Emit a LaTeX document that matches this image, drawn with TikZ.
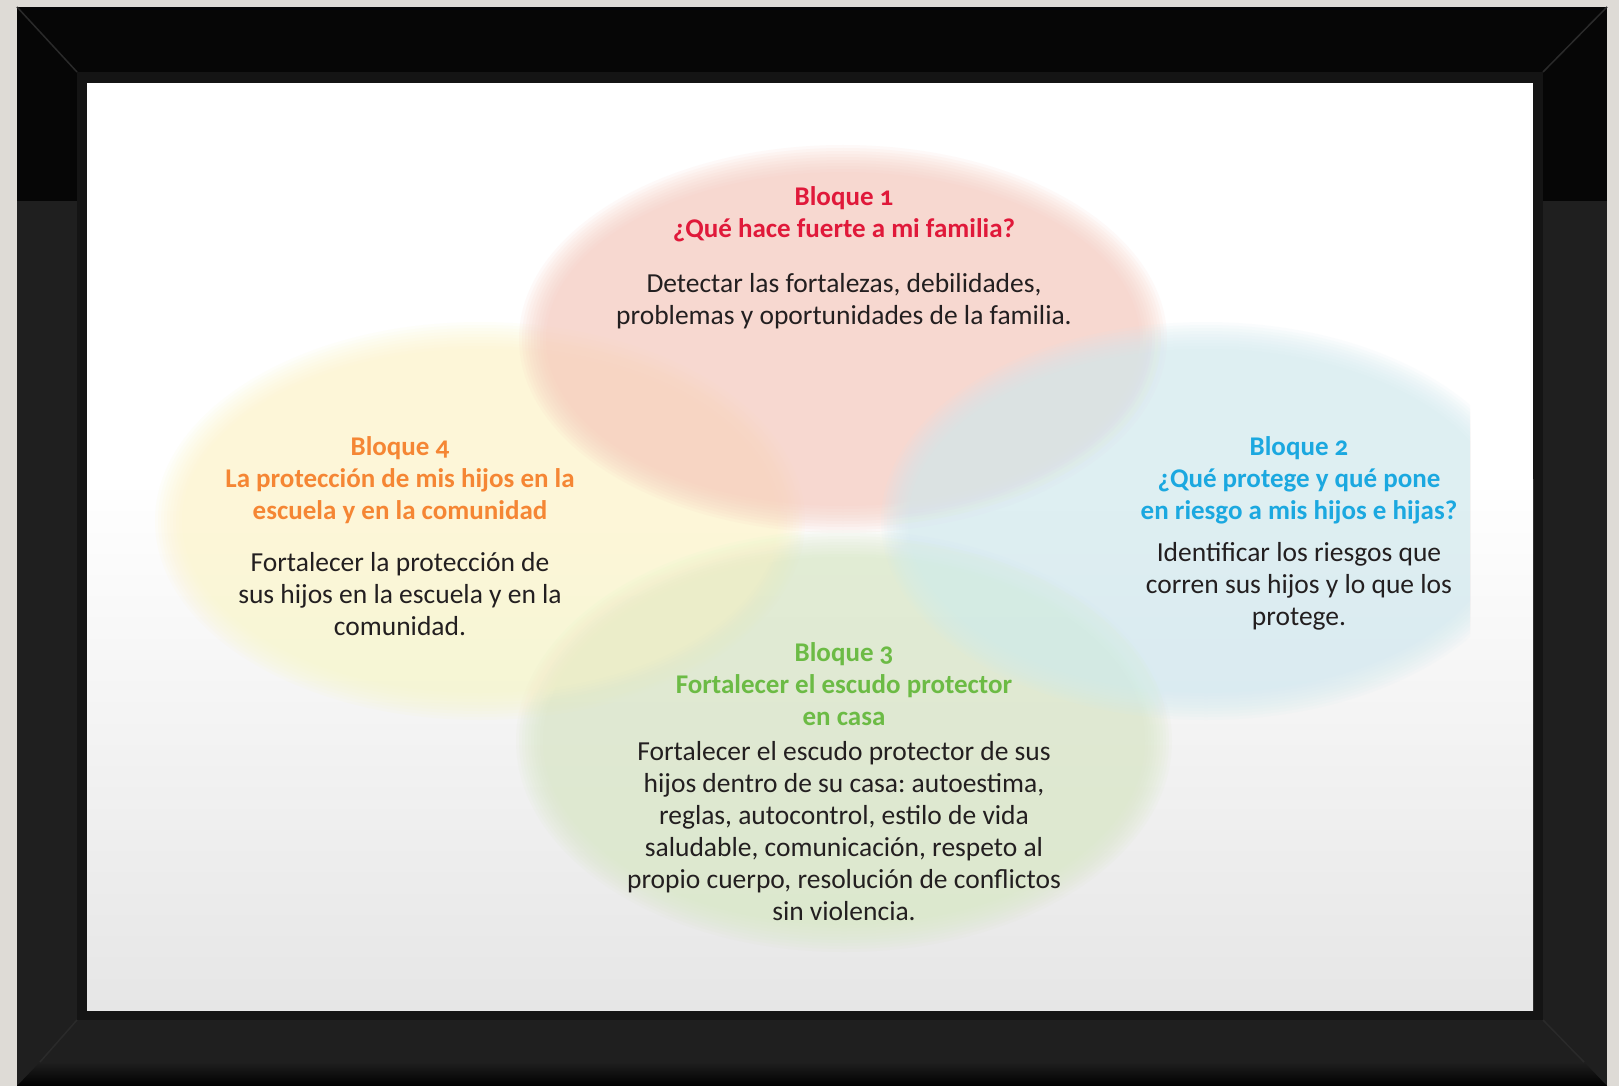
\documentclass[tikz,border=0pt]{standalone}
\usepackage{fontspec}
\setmainfont{Carlito}[Numbers=OldStyle]
\usepackage{tikz}
\usetikzlibrary{positioning}
\frenchspacing
\definecolor{fondo}{HTML}{DEDBD6}
\definecolor{negro}{HTML}{060606}
\definecolor{gris}{HTML}{1F1F1F}
\definecolor{borde}{HTML}{141414}
\definecolor{bisel}{HTML}{2A2A2A}
\definecolor{panel}{HTML}{E6E6E6}
\definecolor{rojo}{HTML}{E0193A}
\definecolor{naranja}{HTML}{F58634}
\definecolor{azul}{HTML}{1BA8E0}
\definecolor{verde}{HTML}{6CBB45}
\definecolor{texto}{HTML}{231F20}
\definecolor{rojoclaro}{HTML}{F7C9BD}
\definecolor{amarilloclaro}{HTML}{FDF6C9}
\definecolor{azulclaro}{HTML}{D2EBF1}
\definecolor{verdeclaro}{HTML}{D9E8C5}
\tikzstyle{titulo} = [align=center, inner sep=0pt, font=\fontsize{27}{32}\selectfont\bfseries]
\tikzstyle{cuerpo} = [align=center, inner sep=0pt, font=\fontsize{27.5}{32}\selectfont, text=texto]
\tikzstyle{capa} = [fill opacity=0.1]

\begin{document}
\begin{tikzpicture}[x=1pt, y=1pt]
\useasboundingbox (0,0) rectangle (1619,-1086);
% Marco
\fill[fondo] (0,0) rectangle (1619,-1086);
\fill[gris] (17,-7) rectangle (1607,-1086);
\fill[negro] (17,-7) rectangle (1607,-201);
\shade[top color=gris, bottom color=bisel!160] (17,-1086) -- (40,-1062) -- (1584,-1062) -- (1607,-1086) -- cycle;
\draw[bisel, line width=1.5pt] (17,-7) -- (77,-72);
\draw[bisel, line width=1.5pt] (1607,-7) -- (1543,-72);
\draw[bisel, line width=1.5pt] (40,-1062) -- (77,-1020);
\draw[bisel, line width=1.5pt] (1584,-1062) -- (1543,-1020);
\fill[borde] (77,-72) rectangle (1543,-1020);
\fill[white] (87,-83) rectangle (1533,-480);
\shade[top color=white, bottom color=panel] (87,-479) rectangle (1533,-1010);

% Elipses
\coordinate (c1) at (843,-339);
\coordinate (c4) at (480,-521);
\coordinate (c2) at (1206,-521);
\coordinate (c3) at (844,-741);
\foreach \k in {0,...,9} {
  \fill[capa, verdeclaro] (c3) ellipse ({328-3*\k} and {211-3*\k});
  \fill[capa, amarilloclaro] (c4) ellipse ({325-3*\k} and {199-3*\k});
}
\foreach \k in {0,...,9}
  \fill[capa, rojoclaro] (c1) ellipse ({324-3*\k} and {194-3*\k});
\begin{scope}
\clip (87,-83) rectangle (1470,-1010);
\foreach \k in {0,...,9}
  \fill[capa, azulclaro] (c2) ellipse ({325-3*\k} and {199-3*\k});
\end{scope}

% Textos
\node (titulo1) [titulo, text=rojo, anchor=base] at (844,-237) {Bloque 1\\¿Qué hace fuerte a mi familia?};
\node (texto1) [cuerpo, below=32pt of titulo1] {Detectar las fortalezas, debilidades,\\problemas y oportunidades de la familia.};

\node (titulo4) [titulo, text=naranja, anchor=base] at (400,-519) {Bloque 4\\La protección de mis hijos en la\\escuela y en la comunidad};
\node (texto4) [cuerpo, below=29pt of titulo4] {Fortalecer la protección de\\sus hijos en la escuela y en la\\comunidad.};

\node (titulo2) [titulo, text=azul, anchor=base] at (1299,-519) {Bloque 2\\¿Qué protege y qué pone\\en riesgo a mis hijos e hijas?};
\node (texto2) [cuerpo, below=18pt of titulo2] {Identificar los riesgos que\\corren sus hijos y lo que los\\protege.};

\node (titulo3) [titulo, text=verde, anchor=base] at (844,-725) {Bloque 3\\Fortalecer el escudo protector\\en casa};
\node (texto3) [cuerpo, below=16pt of titulo3] {Fortalecer el escudo protector de sus\\hijos dentro de su casa: autoestima,\\reglas, autocontrol, estilo de vida\\saludable, comunicación, respeto al\\propio cuerpo, resolución de conflictos\\sin violencia.};
\end{tikzpicture}
\end{document}
